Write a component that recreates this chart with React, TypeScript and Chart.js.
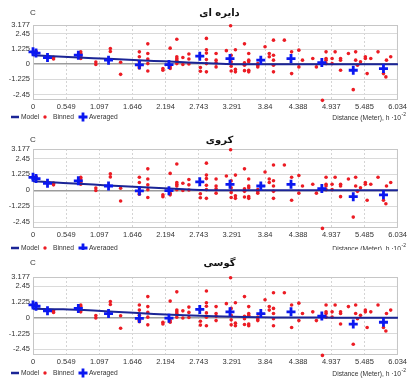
import React, { useEffect, useRef } from 'react';
import { Chart, registerables } from 'chart.js';

Chart.register(...registerables);

const FONT = '"Liberation Sans Narrow", "Liberation Sans", Arial, sans-serif';

const xTickValues = [0, 0.549, 1.097, 1.646, 2.194, 2.743, 3.291, 3.84, 4.388, 4.937, 5.485, 6.034];
const xTickLabels = ['0', '0.549', '1.097', '1.646', '2.194', '2.743', '3.291', '3.84', '4.388', '4.937', '5.485', '6.034'];
const yTickValues = [-2.45, -1.225, 0, 1.225, 2.45, 3.177];
const yTickLabels = ['-2.45', '-1.225', '0', '1.225', '2.45', '3.177'];

const binnedX = [0.05, 0.34, 0.34, 0.79, 0.79, 0.79, 0.79, 1.04, 1.04, 1.28, 1.28, 1.45, 1.45, 1.76, 1.76, 1.76, 1.76, 1.76, 1.9, 1.9, 1.9, 1.9, 1.9, 2.15, 2.15, 2.27, 2.27, 2.27, 2.38, 2.38, 2.38, 2.38, 2.38, 2.48, 2.48, 2.58, 2.58, 2.58, 2.77, 2.77, 2.87, 2.87, 2.87, 2.87, 2.87, 2.87, 3.03, 3.03, 3.03, 3.03, 3.2, 3.27, 3.28, 3.28, 3.28, 3.28, 3.35, 3.35, 3.35, 3.5, 3.5, 3.5, 3.5, 3.57, 3.57, 3.57, 3.57, 3.57, 3.72, 3.72, 3.72, 3.84, 3.91, 3.91, 3.98, 3.98, 3.98, 3.98, 3.98, 4.16, 4.28, 4.28, 4.4, 4.4, 4.46, 4.63, 4.69, 4.79, 4.85, 4.85, 4.85, 4.85, 4.95, 4.95, 5.0, 5.09, 5.09, 5.09, 5.22, 5.3, 5.34, 5.34, 5.37, 5.42, 5.5, 5.5, 5.53, 5.59, 5.71, 5.8, 5.84, 5.85, 5.92];
const binnedY = [1.05, 0.55, 0.42, 1.0, 0.87, 0.6, 0.46, 0.17, -0.02, 1.27, 1.03, 0.16, -0.82, 1.0, 0.6, 0.2, -0.2, -0.3, 1.65, 0.87, 0.42, 0.05, -0.55, -0.35, -0.49, 1.3, -0.22, -0.35, 2.02, 0.6, 0.46, 0.33, 0.05, 0.54, -0.02, 0.83, 0.42, 0.02, -0.27, -0.57, 2.09, 1.17, 0.9, 0.38, 0.05, -0.62, 0.87, 0.33, 0.11, -0.22, 1.1, 3.12, 0.73, 0.19, -0.16, -0.55, 1.17, -0.42, -0.62, 1.65, 0.11, -0.08, -0.52, 0.87, 0.33, 0.19, -0.49, -0.62, 0.05, -0.1, -0.22, 1.41, 0.87, 0.6, 1.95, 0.73, 0.33, -0.08, -0.62, 1.95, 1.0, -0.76, 1.14, -0.22, 0.33, 0.46, -0.22, -2.93, 1.0, 0.46, 0.33, 0.05, 0.46, 0.05, 1.0, 0.46, 0.33, -0.49, 0.87, -2.06, 1.0, 0.33, -0.08, 0.19, 0.6, 0.46, -0.76, 0.46, 1.0, -0.76, -1.03, 0.33, 0.6];

const averagedX = [0.0, 0.05, 0.24, 0.75, 1.25, 1.76, 2.25, 2.76, 3.26, 3.77, 4.27, 4.78, 5.3, 5.8];
const averagedY = [1.0, 0.9, 0.54, 0.73, 0.33, -0.05, -0.03, 0.65, 0.46, 0.33, 0.46, 0.13, -0.49, -0.35];

const circularX = [0, 0.5, 1.0, 1.5, 2.0, 2.5, 3.0, 3.4, 6.04];
const circularY = [0.72, 0.6, 0.49, 0.38, 0.27, 0.16, 0.06, 0.0, 0.0];
const sphericalX = [0, 0.5, 1.0, 1.5, 2.0, 2.5, 2.8, 3.0, 6.04];
const sphericalY = [0.7, 0.57, 0.44, 0.31, 0.19, 0.08, 0.02, 0.0, 0.0];
const gaussianX = [0, 0.5, 1.0, 1.5, 2.0, 2.5, 3.0, 3.5, 4.0, 5.0, 6.04];
const gaussianY = [0.7, 0.66, 0.56, 0.43, 0.3, 0.19, 0.11, 0.06, 0.03, 0.01, 0.0];

const titles = ['دایره ای', 'کروی', 'گوسی'];
const legendLabels = ['Model', 'Binned', 'Averaged'];
const xAxisTitle = 'Distance (Meter), h ·10';
const xAxisTitleSup = '-2';
const yAxisTitle = 'C';

const MODEL_COLOR = '#1b2596';
const BINNED_COLOR = '#ec1c24';
const AVG_COLOR = '#0b18f0';
const TEXT_COLOR = '#333333';
const NARROW = 0.84;

const layouts = [
  { top: 0, height: 125, plotTop: 25, plotBottom: 100, titleY: 13, legendY: 117 },
  { top: 125, height: 125, plotTop: 24, plotBottom: 103, titleY: 15, legendY: 123 },
  { top: 250, height: 129, plotTop: 27, plotBottom: 105, titleY: 13, legendY: 123 },
];

const models = [
  { x: circularX, y: circularY },
  { x: sphericalX, y: sphericalY },
  { x: gaussianX, y: gaussianY },
];

function narrowText(ctx: CanvasRenderingContext2D, text: string, x: number, y: number, align: 'left' | 'right') {
  ctx.save();
  ctx.translate(x, y);
  ctx.scale(NARROW, 1);
  ctx.textAlign = align;
  ctx.fillText(text, 0, 0);
  ctx.restore();
}

const decor = {
  id: 'decor',
  beforeDatasetsDraw(chart: any) {
    const { ctx, chartArea } = chart;
    ctx.save();
    ctx.strokeStyle = '#c6c6c6';
    ctx.lineWidth = 1;
    ctx.strokeRect(chartArea.left + 0.5, chartArea.top + 0.5, chartArea.right - chartArea.left - 1, chartArea.bottom - chartArea.top - 1);
    ctx.restore();
  },
  afterDraw(chart: any, _args: any, opts: any) {
    const { ctx, chartArea } = chart;
    ctx.save();
    ctx.fillStyle = '#111';
    ctx.textBaseline = 'middle';
    ctx.textAlign = 'center';
    ctx.font = 'bold 10px "DejaVu Sans", sans-serif';
    ctx.fillText(opts.title, (chartArea.left + chartArea.right) / 2 + 4, opts.titleY);

    ctx.fillStyle = TEXT_COLOR;
    ctx.font = '8px ' + FONT;
    ctx.fillText(yAxisTitle, 33, opts.titleY);

    const ly = opts.legendY;
    // Model
    ctx.strokeStyle = MODEL_COLOR;
    ctx.lineWidth = 2.5;
    ctx.beginPath();
    ctx.moveTo(11, ly);
    ctx.lineTo(19, ly);
    ctx.stroke();
    // Binned
    ctx.fillStyle = BINNED_COLOR;
    ctx.beginPath();
    ctx.arc(45, ly, 1.7, 0, Math.PI * 2);
    ctx.fill();
    // Averaged
    ctx.strokeStyle = AVG_COLOR;
    ctx.lineWidth = 2.8;
    ctx.beginPath();
    ctx.moveTo(78.5, ly);
    ctx.lineTo(87.5, ly);
    ctx.moveTo(83, ly - 4.5);
    ctx.lineTo(83, ly + 4.5);
    ctx.stroke();

    ctx.fillStyle = TEXT_COLOR;
    ctx.font = '8px ' + FONT;
    narrowText(ctx, legendLabels[0], 21, ly, 'left');
    narrowText(ctx, legendLabels[1], 53, ly, 'left');
    narrowText(ctx, legendLabels[2], 89, ly, 'left');

    // x axis title right aligned with superscript
    ctx.font = '6px ' + FONT;
    const supW = ctx.measureText(xAxisTitleSup).width * NARROW;
    const supX = 406 - supW;
    narrowText(ctx, xAxisTitleSup, supX, ly - 3, 'left');
    ctx.font = '8px ' + FONT;
    narrowText(ctx, xAxisTitle, supX - 0.5, ly + 1, 'right');
    ctx.restore();
  },
};

function Panel({ index }: { index: number }) {
  const ref = useRef<HTMLCanvasElement>(null);
  const lay = layouts[index];
  useEffect(() => {
    const model = models[index];
    const chart = new Chart(ref.current as HTMLCanvasElement, {
      type: 'scatter',
      data: {
        datasets: [
          {
            label: 'Averaged',
            data: averagedX.map((x, i) => ({ x, y: averagedY[i] })),
            pointStyle: 'cross',
            pointRadius: 4.5,
            borderWidth: 2.8,
            borderColor: AVG_COLOR,
            backgroundColor: AVG_COLOR,
            showLine: false,
            clip: false,
          } as any,
          {
            label: 'Model',
            data: model.x.map((x, i) => ({ x, y: model.y[i] })),
            showLine: true,
            pointRadius: 0,
            borderColor: MODEL_COLOR,
            borderWidth: 2,
            cubicInterpolationMode: 'monotone',
            fill: false,
          } as any,
          {
            label: 'Binned',
            data: binnedX.map((x, i) => ({ x, y: binnedY[i] })),
            pointStyle: 'circle',
            pointRadius: 1.8,
            borderWidth: 0,
            backgroundColor: BINNED_COLOR,
            showLine: false,
            clip: false,
          } as any,
        ],
      },
      options: {
        responsive: false,
        animation: false,
        events: [],
        layout: {
          padding: { left: 0, right: 10, top: lay.plotTop, bottom: lay.height - lay.plotBottom - 14 },
        },
        plugins: {
          legend: { display: false },
          tooltip: { enabled: false },
          decor: { title: titles[index], titleY: lay.titleY, legendY: lay.legendY },
        } as any,
        scales: {
          x: {
            type: 'linear',
            min: 0,
            max: 6.04,
            afterBuildTicks: (s: any) => {
              s.ticks = xTickValues.map((v) => ({ value: v }));
            },
            afterFit: (s: any) => {
              s.height = 14;
            },
            ticks: {
              autoSkip: false,
              maxRotation: 0,
              padding: 2,
              color: TEXT_COLOR,
              font: { family: FONT, size: 7.5 },
              callback: (_v: any, i: number) => xTickLabels[i],
            },
            grid: { color: '#d4d4d4', drawTicks: false, lineWidth: 1 },
            border: { display: false, dash: [2, 2] },
          },
          y: {
            type: 'linear',
            min: -2.9,
            max: 3.177,
            afterBuildTicks: (s: any) => {
              s.ticks = yTickValues.map((v) => ({ value: v }));
            },
            afterFit: (s: any) => {
              s.width = 33;
            },
            ticks: {
              autoSkip: false,
              padding: 3,
              color: TEXT_COLOR,
              font: { family: FONT, size: 7.5 },
              callback: (_v: any, i: number) => yTickLabels[i],
            },
            grid: {
              drawTicks: false,
              color: (c: any) => (c.tick && c.tick.value === 0 ? '#9c9c9c' : '#dadada'),
              lineWidth: (c: any) => (c.tick && c.tick.value === 0 ? 1.5 : 1),
            },
            border: { display: false },
          },
        },
      } as any,
      plugins: [decor],
    });
    return () => chart.destroy();
  }, [index]);
  return (
    <canvas
      ref={ref}
      width={409}
      height={lay.height}
      style={{ position: 'absolute', left: 0, top: lay.top, width: 409, height: lay.height }}
    />
  );
}

export default function App() {
  return (
    <div style={{ position: 'fixed', left: 0, top: 0, width: 409, height: 379, background: '#ffffff', overflow: 'hidden' }}>
      <Panel index={0} />
      <Panel index={1} />
      <Panel index={2} />
    </div>
  );
}
